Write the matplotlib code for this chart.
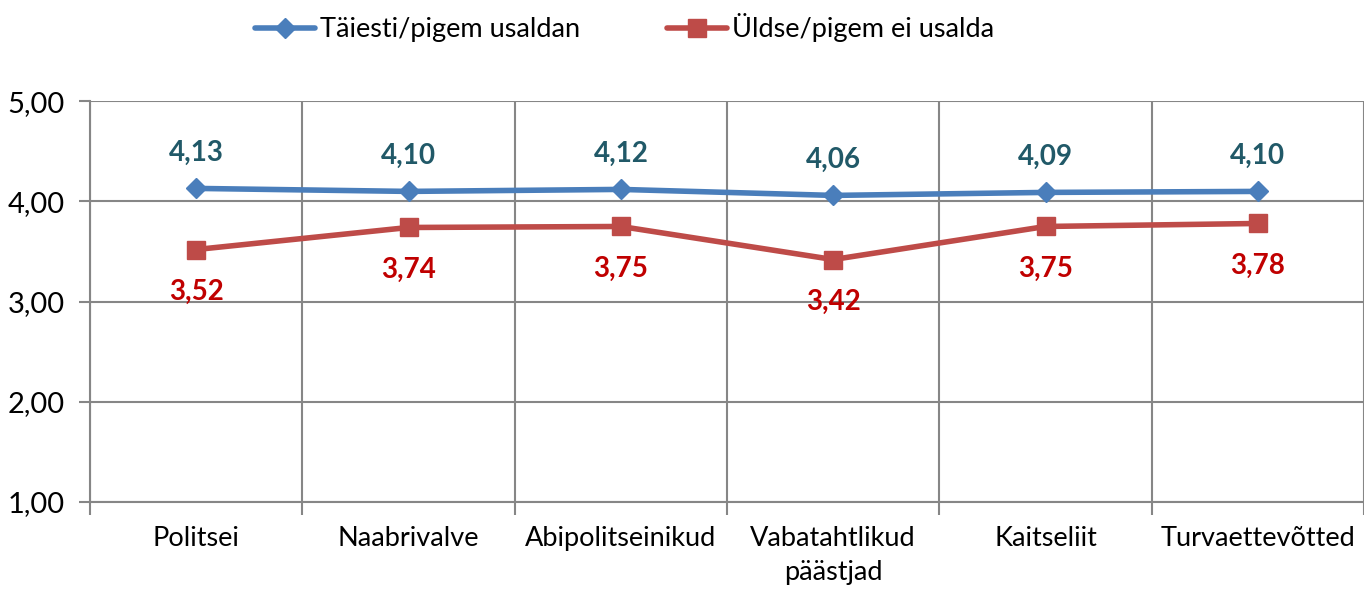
import matplotlib
matplotlib.use("Agg")
import matplotlib.pyplot as plt
import numpy as np

plt.rcParams['font.family'] = ['Lato', 'DejaVu Sans']

# andmed
kategooriad = ['Politsei', 'Naabrivalve', 'Abipolitseinikud', 'Vabatahtlikud\npäästjad',
               'Kaitseliit', 'Turvaettevõtted']
usaldan = [4.13, 4.10, 4.12, 4.06, 4.09, 4.10]
ei_usalda = [3.52, 3.74, 3.75, 3.42, 3.75, 3.78]
y_ticks = [1, 2, 3, 4, 5]

sinine = '#4A7EBB'
punane = '#BE4B48'
grid_c = '#868686'

fig = plt.figure(figsize=(13.64, 5.92), dpi=100)
ax = fig.add_axes([0.066, 0.152, 0.934, 0.677])

x = np.arange(len(kategooriad))
ax.plot(x, usaldan, color=sinine, lw=4, marker='D', ms=10, label='Täiesti/pigem usaldan',
        solid_capstyle='round', zorder=3)
ax.plot(x, ei_usalda, color=punane, lw=4, marker='s', ms=13, label='Üldse/pigem ei usalda',
        solid_capstyle='round', zorder=3)

# väärtuste sildid
for xi, v in zip(x, usaldan):
    ax.annotate(f'{v:.2f}'.replace('.', ','), (xi, v), xytext=(0, 16), textcoords='offset points',
                ha='center', va='bottom', fontsize=20, fontweight='bold', color='#215968')
for xi, v in zip(x, ei_usalda):
    ax.annotate(f'{v:.2f}'.replace('.', ','), (xi, v), xytext=(0, -21), textcoords='offset points',
                ha='center', va='top', fontsize=20, fontweight='bold', color='#C00000')

ax.set_xlim(-0.5, len(kategooriad) - 0.5)
ax.set_ylim(1, 5)
ax.set_yticks(y_ticks)
ax.set_yticklabels([f'{t:.2f}'.replace('.', ',') for t in y_ticks], fontsize=21)

# vertikaalsed jooned kategooriate vahel
ax.set_xticks(np.arange(len(kategooriad) + 1) - 0.5)
ax.set_xticklabels([])
ax.set_xticks(x, minor=True)
ax.set_xticklabels(kategooriad, minor=True, fontsize=19.5, linespacing=1.45)
ax.tick_params(axis='x', which='minor', length=0, pad=17)
ax.tick_params(axis='x', which='major', length=9, color=grid_c, width=1.5)
ax.tick_params(axis='y', length=8, color=grid_c, width=1.5, pad=10)

ax.grid(True, which='major', color=grid_c, lw=1.5)
ax.set_axisbelow(True)
for s in ['top', 'right']:
    ax.spines[s].set_visible(False)
for s in ['left', 'bottom']:
    ax.spines[s].set_color(grid_c)
    ax.spines[s].set_linewidth(1.5)

fig.legend(loc='center', bbox_to_anchor=(0.458, 0.953), ncol=2, frameon=False, fontsize=19.5,
           handlelength=2.2, columnspacing=3.2, handletextpad=0.2)

fig.savefig('out.png', dpi=100)
